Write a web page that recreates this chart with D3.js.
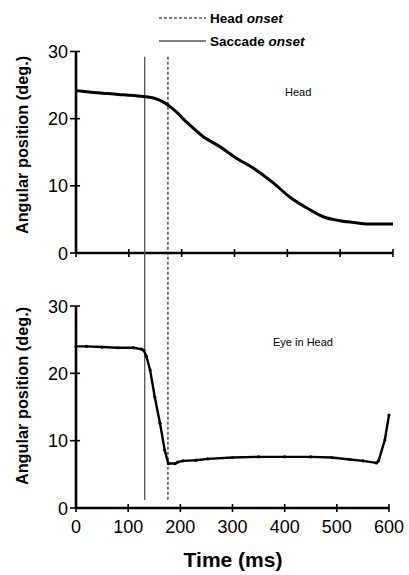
<!DOCTYPE html>
<html><head><meta charset="utf-8">
<script src="https://cdn.jsdelivr.net/npm/d3@7"></script>
<style>body{margin:0;background:#fff}svg{display:block}</style>
</head><body>
<script>
// Data
const headTime = [0,20,50,80,100,127,150,165,178,190,200,216,241,273,300,336,374,405,437,468,500,530,560,600];
const headPos  = [24.2,24.0,23.8,23.6,23.5,23.3,23.0,22.5,21.8,21.0,20.2,19.0,17.3,15.8,14.3,12.6,10.4,8.3,6.7,5.4,4.8,4.5,4.3,4.3];
const eyeTime = [0,20,50,80,110,125,130,135,142,151,161,170,177,190,195,205,230,253,300,350,400,450,490,525,550,576,580,592,600];
const eyePos  = [24.0,24.0,23.9,23.8,23.8,23.6,23.4,22.5,20.5,16.5,12.6,8.6,6.6,6.6,6.8,7.0,7.1,7.3,7.5,7.6,7.6,7.6,7.5,7.2,7.0,6.7,7.0,10.1,13.8];
const onsetLines = [{name:"Head", emph:"onset", t:174, dash:true},{name:"Saccade", emph:"onset", t:130, dash:false}];
const xTicks = [0,100,200,300,400,500,600];
const yTicks = [0,10,20,30];
const yTitle = "Angular position (deg.)";
const xTitle = "Time (ms)";
const panelLabels = ["Head","Eye in Head"];

const W=409,H=575;
const svg=d3.select("body").append("svg").attr("width",W).attr("height",H);
const font="'Liberation Sans', Arial, Helvetica, sans-serif";

const xTop=d3.scaleLinear().domain([0,600]).range([76,393]);
const yTop=d3.scaleLinear().domain([0,30]).range([253,51.5]);
const xBot=d3.scaleLinear().domain([0,600]).range([76,389]);
const yBot=d3.scaleLinear().domain([0,30]).range([508,306]);

function drawAxes(x,y,showXLabels){
  const g=svg.append("g");
  // axis lines
  g.append("line").attr("x1",x(0)).attr("x2",x(0)).attr("y1",y(30)).attr("y2",y(0))
    .attr("stroke","#000").attr("stroke-width",2.6);
  g.append("line").attr("x1",x(0)).attr("x2",x(600)).attr("y1",y(0)).attr("y2",y(0))
    .attr("stroke","#000").attr("stroke-width",2.6);
  // y ticks
  yTicks.forEach(v=>{
    g.append("line").attr("x1",x(0)-6).attr("x2",x(0)+4).attr("y1",y(v)).attr("y2",y(v))
      .attr("stroke","#000").attr("stroke-width",1.6);
    g.append("text").attr("x",x(0)-8).attr("y",y(v)+6.5).attr("text-anchor","end")
      .attr("font-family",font).attr("font-size",18).text(v);
  });
  xTicks.forEach(v=>{
    g.append("line").attr("x1",x(v)).attr("x2",x(v)).attr("y1",y(0)-4).attr("y2",y(0)+4)
      .attr("stroke","#000").attr("stroke-width",1.6);
    if(showXLabels){
      g.append("text").attr("x",x(v)).attr("y",y(0)+25).attr("text-anchor","middle")
        .attr("font-family",font).attr("font-size",18).text(v);
    }
  });
}
drawAxes(xTop,yTop,false);
drawAxes(xBot,yBot,true);

// y titles
[[145],[396]].forEach(([cy])=>{
  svg.append("text").attr("transform",`translate(28,${cy}) rotate(-90)`)
    .attr("text-anchor","middle").attr("font-family",font).attr("font-weight","bold")
    .attr("font-size",16.3).text(yTitle);
});
// x title
svg.append("text").attr("x",233).attr("y",567).attr("text-anchor","middle")
  .attr("font-family",font).attr("font-weight","bold").attr("font-size",21).text(xTitle);

// onset vertical lines spanning both panels
onsetLines.forEach(d=>{
  svg.append("line").attr("x1",xTop(d.t)).attr("x2",xTop(d.t))
    .attr("y1",yTop(29.2)).attr("y2",yBot(1.2))
    .attr("stroke",d.dash?"#222":"#555").attr("stroke-width",d.dash?1.2:1.3)
    .attr("stroke-dasharray",d.dash?"3,2":null);
});

// legend
onsetLines.forEach((d,i)=>{
  const ly=18+i*23;
  svg.append("line").attr("x1",159).attr("x2",206).attr("y1",ly).attr("y2",ly)
    .attr("stroke","#000").attr("stroke-width",1.2).attr("stroke-dasharray",d.dash?"3,2":null);
  const t=svg.append("text").attr("x",210).attr("y",ly+4.8).attr("font-family",font)
    .attr("font-weight","bold").attr("font-size",13.5);
  t.append("tspan").text(d.name+" ");
  t.append("tspan").attr("font-style","italic").text(d.emph);
});

// curves
const lineTop=d3.line().x((d,i)=>xTop(headTime[i])).y(d=>yTop(d)).curve(d3.curveMonotoneX);
svg.append("path").attr("d",lineTop(headPos)).attr("fill","none").attr("stroke","#000")
  .attr("stroke-width",3).attr("stroke-linejoin","round");

const lineBot=d3.line().x((d,i)=>xBot(eyeTime[i])).y(d=>yBot(d)).curve(d3.curveLinear);
svg.append("path").attr("d",lineBot(eyePos)).attr("fill","none").attr("stroke","#000")
  .attr("stroke-width",2.4).attr("stroke-linejoin","round");
svg.append("g").selectAll("circle").data(eyePos).join("circle")
  .attr("cx",(d,i)=>xBot(eyeTime[i])).attr("cy",d=>yBot(d)).attr("r",1.6).attr("fill","#000");

// panel labels
svg.append("text").attr("x",285).attr("y",95.5).attr("font-family",font).attr("font-size",11).text(panelLabels[0]);
svg.append("text").attr("x",273).attr("y",345.5).attr("font-family",font).attr("font-size",11).text(panelLabels[1]);
</script>
</body></html>
